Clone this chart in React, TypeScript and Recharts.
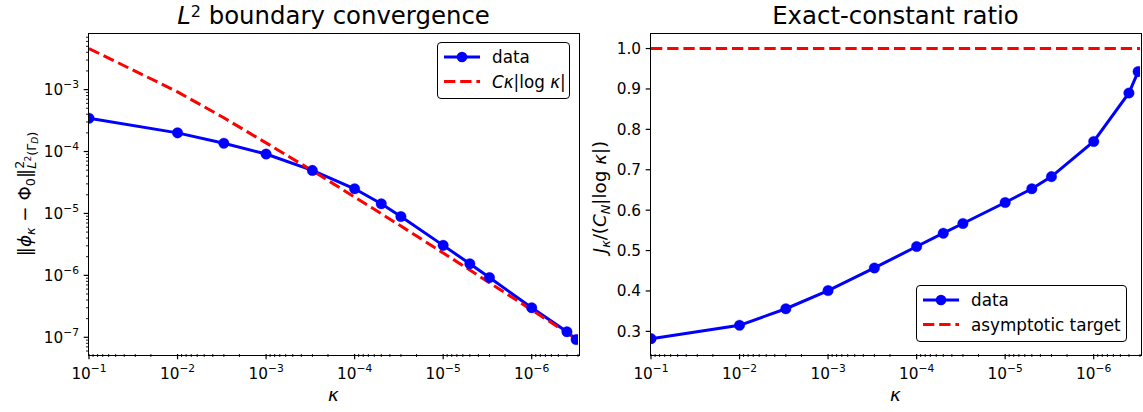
import React from 'react';
import { LineChart, Line, XAxis, YAxis, ReferenceLine } from 'recharts';

// kappa values (decreasing)
const KAPPA = [1e-1, 1e-2, 3e-3, 1e-3, 3e-4, 1e-4, 5e-5, 3e-5, 1e-5, 5e-6, 3e-6, 1e-6, 4e-7, 3.15e-7];
// left panel: ||phi_k - Phi_0||^2 on the boundary
const BOUNDARY_ERR = [3.45e-4, 2.0e-4, 1.36e-4, 9.1e-5, 4.95e-5, 2.5e-5, 1.43e-5, 8.9e-6, 3.05e-6, 1.54e-6, 9.2e-7, 3.0e-7, 1.23e-7, 9.2e-8];
// left panel: reference curve C k |log k|
const REF_CURVE = [4.6e-3, 9.2e-4, 3.5e-4, 1.38e-4, 4.9e-5, 1.84e-5, 9.9e-6, 6.25e-6, 2.3e-6, 1.22e-6, 7.6e-7, 2.76e-7, 1.18e-7, 9.4e-8];
// right panel: J_k / (C_N |log k|)
const RATIO = [0.282, 0.315, 0.356, 0.401, 0.457, 0.51, 0.543, 0.567, 0.619, 0.653, 0.683, 0.77, 0.89, 0.943];
const TARGET = 1.0;

const X_DOMAIN = [3e-7, 1e-1];
const Y_DOMAIN_LEFT = [5.37e-8, 7.9e-3];
const Y_DOMAIN_RIGHT = [0.244, 1.036];

const X_MAJOR = [1e-1, 1e-2, 1e-3, 1e-4, 1e-5, 1e-6];
const Y_MAJOR_LEFT = [1e-7, 1e-6, 1e-5, 1e-4, 1e-3];
const Y_TICKS_RIGHT = [0.3, 0.4, 0.5, 0.6, 0.7, 0.8, 0.9, 1.0];
const MINOR_MULT = [2, 3, 4, 5, 6, 7, 8, 9];

const FONT = 'DejaVu Sans';
const BLUE = '#0000ff';
const RED = '#ff0000';
const LW = 3;
const DASH = '11.3 4.9';
const TICK_FS = 15.3;
const LABEL_FS = 18.3;

function minorTicks(lo: number, hi: number) {
  const out: number[] = [];
  for (let e = Math.floor(Math.log10(lo)); e <= Math.ceil(Math.log10(hi)); e++) {
    for (const m of MINOR_MULT) {
      const v = m * Math.pow(10, e);
      if (v >= lo && v <= hi) out.push(v);
    }
  }
  return out;
}

const leftData = KAPPA.map((k, i) => ({ k, err: BOUNDARY_ERR[i], ref: REF_CURVE[i] }));
const rightData = KAPPA.map((k, i) => ({ k, ratio: RATIO[i] }));

const xTicks = [...X_MAJOR, ...minorTicks(X_DOMAIN[0], X_DOMAIN[1])];
const yTicksLeft = [...Y_MAJOR_LEFT, ...minorTicks(Y_DOMAIN_LEFT[0], Y_DOMAIN_LEFT[1])];

const isMajor = (v: number) => Math.abs(Math.log10(v) - Math.round(Math.log10(v))) < 1e-6;

function Pow10({ e }: { e: number }) {
  return (
    <>
      10<tspan dy={-6.8} fontSize={10.7}>{`\u2212${-e}`}</tspan>
    </>
  );
}

function XTick(props: any) {
  const { x, y, payload } = props;
  const v = payload.value;
  if (!isMajor(v)) {
    return <line x1={x} x2={x} y1={y} y2={y + 3} stroke="#000" strokeWidth={0.9} />;
  }
  return (
    <g>
      <line x1={x} x2={x} y1={y} y2={y + 5.3} stroke="#000" strokeWidth={1.2} />
      <text x={x} y={y + 24.5} textAnchor="middle" fontSize={TICK_FS} fontFamily={FONT} fill="#000">
        <Pow10 e={Math.round(Math.log10(v))} />
      </text>
    </g>
  );
}

function YTickLog(props: any) {
  const { x, y, payload } = props;
  const v = payload.value;
  if (!isMajor(v)) {
    return <line x1={x - 3} x2={x} y1={y} y2={y} stroke="#000" strokeWidth={0.9} />;
  }
  return (
    <g>
      <line x1={x - 5.3} x2={x} y1={y} y2={y} stroke="#000" strokeWidth={1.2} />
      <text x={x - 10} y={y + 5.5} textAnchor="end" fontSize={TICK_FS} fontFamily={FONT} fill="#000">
        <Pow10 e={Math.round(Math.log10(v))} />
      </text>
    </g>
  );
}

function YTickLin(props: any) {
  const { x, y, payload } = props;
  return (
    <g>
      <line x1={x - 5.3} x2={x} y1={y} y2={y} stroke="#000" strokeWidth={1.2} />
      <text x={x - 10} y={y + 5.5} textAnchor="end" fontSize={TICK_FS} fontFamily={FONT} fill="#000">
        {payload.value.toFixed(1)}
      </text>
    </g>
  );
}

const frame = (left: number, top: number, w: number, h: number): React.CSSProperties => ({
  position: 'absolute',
  left: left - 1,
  top: top - 1,
  width: w + 1,
  height: h + 1,
  border: '1px solid #000',
  pointerEvents: 'none',
});

function LegendBox({ left, top, width, items }: { left: number; top: number; width: number; items: { kind: 'dot' | 'dash'; label: React.ReactNode }[] }) {
  return (
    <div
      style={{
        position: 'absolute',
        left,
        top,
        width,
        height: 57,
        border: '1.5px solid #000',
        borderRadius: 4,
        background: '#fff',
        boxSizing: 'border-box',
      }}
    >
      <svg width={width} height={57} style={{ position: 'absolute', left: -1.5, top: -1.5 }}>
        {items.map((it, i) => {
          const cy = 15 + i * 24.5;
          return (
            <g key={i}>
              {it.kind === 'dot' ? (
                <>
                  <line x1={7} x2={43} y1={cy} y2={cy} stroke={BLUE} strokeWidth={LW} />
                  <circle cx={25} cy={cy} r={5.3} fill={BLUE} />
                </>
              ) : (
                <line x1={7} x2={43} y1={cy} y2={cy} stroke={RED} strokeWidth={LW} strokeDasharray={DASH} />
              )}
              <text x={55} y={cy + 6} fontSize={16.8} fontFamily={FONT} fill="#000">
                {it.label}
              </text>
            </g>
          );
        })}
      </svg>
    </div>
  );
}

function Title({ cx, children }: { cx: number; children: React.ReactNode }) {
  return (
    <text x={cx} y={24} textAnchor="middle" fontSize={24.4} fontFamily={FONT} fill="#000">
      {children}
    </text>
  );
}

export default function App() {
  return (
    <div style={{ position: 'absolute', left: 0, top: 0, width: 1143, height: 412, background: '#fff', fontFamily: FONT }}>
      {/* left panel */}
      <div style={{ position: 'absolute', left: 0, top: 0 }}>
        <LineChart width={580} height={412} data={leftData} margin={{ top: 34, right: 2, bottom: 0, left: 0 }}>
          <XAxis
            dataKey="k"
            type="number"
            scale="log"
            domain={X_DOMAIN}
            allowDataOverflow
            reversed
            ticks={xTicks}
            interval={0}
            tick={<XTick />}
            tickLine={false}
            axisLine={false}
            tickSize={0}
            tickMargin={0}
            height={58}
          />
          <YAxis
            type="number"
            scale="log"
            domain={Y_DOMAIN_LEFT}
            allowDataOverflow
            ticks={yTicksLeft}
            interval={0}
            tick={<YTickLog />}
            tickLine={false}
            axisLine={false}
            tickSize={0}
            tickMargin={0}
            width={89}
          />
          <Line
            dataKey="err"
            stroke={BLUE}
            strokeWidth={LW}
            dot={{ r: 5.3, fill: BLUE, stroke: BLUE, strokeWidth: 0.3 }}
            activeDot={false}
            isAnimationActive={false}
          />
          <Line
            dataKey="ref"
            stroke={RED}
            strokeWidth={LW}
            strokeDasharray={DASH}
            dot={false}
            activeDot={false}
            isAnimationActive={false}
          />
        </LineChart>
      </div>

      {/* right panel */}
      <div style={{ position: 'absolute', left: 580, top: 0 }}>
        <LineChart width={563} height={412} data={rightData} margin={{ top: 34, right: 3, bottom: 0, left: 0 }}>
          <XAxis
            dataKey="k"
            type="number"
            scale="log"
            domain={X_DOMAIN}
            allowDataOverflow
            reversed
            ticks={xTicks}
            interval={0}
            tick={<XTick />}
            tickLine={false}
            axisLine={false}
            tickSize={0}
            tickMargin={0}
            height={58}
          />
          <YAxis
            type="number"
            domain={Y_DOMAIN_RIGHT}
            allowDataOverflow
            ticks={Y_TICKS_RIGHT}
            interval={0}
            tick={<YTickLin />}
            tickLine={false}
            axisLine={false}
            tickSize={0}
            tickMargin={0}
            width={71}
          />
          <Line
            dataKey="ratio"
            stroke={BLUE}
            strokeWidth={LW}
            dot={{ r: 5.3, fill: BLUE, stroke: BLUE, strokeWidth: 0.3 }}
            activeDot={false}
            isAnimationActive={false}
          />
          <ReferenceLine y={TARGET} stroke={RED} strokeWidth={LW} strokeDasharray={DASH} />
        </LineChart>
      </div>

      {/* axes frames (matplotlib spines) */}
      <div style={frame(89, 34, 489, 320)} />
      <div style={frame(651, 34, 489, 320)} />

      {/* titles and axis labels */}
      <svg width={1143} height={412} style={{ position: 'absolute', left: 0, top: 0, pointerEvents: 'none' }}>
        <Title cx={333.5}>
          <tspan fontStyle="italic">L</tspan>
          <tspan dy={-7.5} fontSize={16}>2</tspan>
          <tspan dy={7.5}> boundary convergence</tspan>
        </Title>
        <Title cx={895.5}>Exact-constant ratio</Title>

        <text x={333.5} y={401} textAnchor="middle" fontSize={LABEL_FS} fontStyle="italic" fontFamily={FONT}>κ</text>
        <text x={895.5} y={401} textAnchor="middle" fontSize={LABEL_FS} fontStyle="italic" fontFamily={FONT}>κ</text>

        <text transform="rotate(-90 31 194)" x={31} y={194} textAnchor="middle" fontSize={LABEL_FS} fontFamily={FONT}>
          ‖<tspan fontStyle="italic">ϕ</tspan>
          <tspan fontSize={12.8} dy={4} fontStyle="italic">κ</tspan>
          <tspan dy={-4}> − Φ</tspan>
          <tspan fontSize={12.8} dy={4}>0</tspan>
          <tspan dy={-4}>‖</tspan>
          <tspan fontSize={12.8} dy={-7.5}>2</tspan>
          <tspan fontSize={12.8} dx={-8} dy={12} fontStyle="italic">L</tspan>
          <tspan fontSize={9} dy={-4.5}>2</tspan>
          <tspan fontSize={12.8} dy={4.5}>(Γ</tspan>
          <tspan fontSize={9} dy={2.5} fontStyle="italic">D</tspan>
          <tspan fontSize={12.8} dy={-2.5}>)</tspan>
        </text>

        <text transform="rotate(-90 606 197)" x={606} y={197} textAnchor="middle" fontSize={LABEL_FS} fontFamily={FONT}>
          <tspan fontStyle="italic">J</tspan>
          <tspan fontSize={12.8} dy={4} fontStyle="italic">κ</tspan>
          <tspan dy={-4}>/(</tspan>
          <tspan fontStyle="italic">C</tspan>
          <tspan fontSize={12.8} dy={4} fontStyle="italic">N</tspan>
          <tspan dy={-4}>|log </tspan>
          <tspan fontStyle="italic">κ</tspan>
          <tspan>|)</tspan>
        </text>
      </svg>

      <LegendBox
        left={437}
        top={42}
        width={133}
        items={[
          { kind: 'dot', label: 'data' },
          {
            kind: 'dash',
            label: (
              <>
                <tspan fontStyle="italic">Cκ</tspan>|log <tspan fontStyle="italic">κ</tspan>|
              </>
            ),
          },
        ]}
      />
      <LegendBox
        left={916}
        top={285}
        width={211}
        items={[
          { kind: 'dot', label: 'data' },
          { kind: 'dash', label: 'asymptotic target' },
        ]}
      />
    </div>
  );
}
